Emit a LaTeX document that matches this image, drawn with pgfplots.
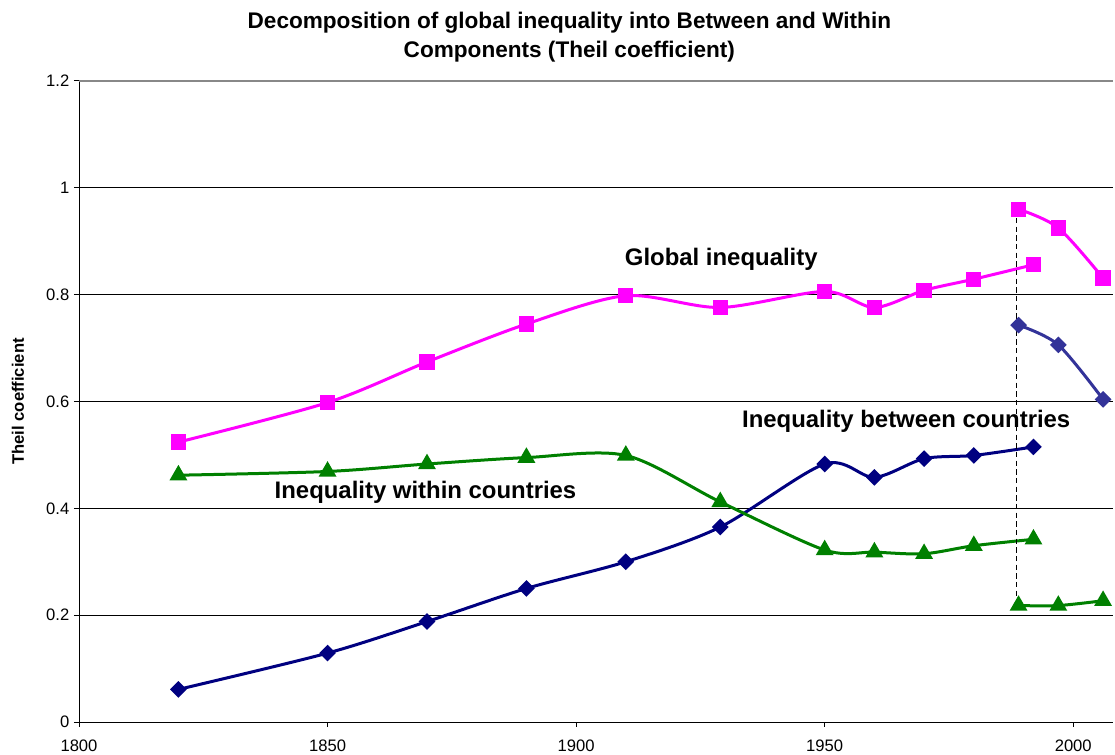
\documentclass[border=0pt]{standalone}
\usepackage{pgfplots}
\pgfplotsset{compat=1.18}
\usepackage{fontspec}
\setmainfont{Liberation Sans}

\definecolor{globalc}{RGB}{255,0,255}
\definecolor{betweenc}{RGB}{0,0,128}
\definecolor{betweenb}{RGB}{51,51,153}
\definecolor{withinc}{RGB}{0,128,0}
\definecolor{topgrid}{RGB}{136,136,136}

\begin{document}
\begin{tikzpicture}
\useasboundingbox (0,0) rectangle (836.25bp,566.25bp);

% title
\node[align=center, font=\fontsize{17}{21.75}\selectfont\bfseries] at (427bp,538.5bp)
  {Decomposition of global inequality into Between and Within\\Components (Theil coefficient)};

\begin{axis}[
  at={(59.25bp,24.75bp)}, anchor=south west,
  scale only axis, width=775.5bp, height=480.75bp,
  xmin=1800, xmax=2008, ymin=0, ymax=1.2,
  xtick={1800,1850,1900,1950,2000},
  ytick={0,0.2,0.4,0.6,0.8,1,1.2},
  axis x line*=bottom, axis y line*=left,
  axis line style={-, black, line width=0.75pt},
  tick align=outside, major tick length=3.75bp,
  tick style={black, line width=0.75pt},
  ymajorgrids, grid style={black, line width=0.6pt},
  ticklabel style={font=\fontsize{12.5}{15}\selectfont},
  xticklabel style={yshift=-6.5bp},
  /pgf/number format/assume math mode=true,
  /pgf/number format/1000 sep={},
  yticklabel style={/pgf/number format/fixed},
  ylabel={Theil coefficient},
  every axis y label/.style={at={(axis description cs:-0.059,0.5)}, rotate=90, anchor=center,
    font=\fontsize{12.5}{15}\selectfont\bfseries},
  clip=false,
  every axis plot/.append style={line width=2.25bp, smooth, tension=0.5},
]

% redraw the top gridline in grey
\draw[white, line width=2bp] (axis cs:1800,1.2) -- (axis cs:2008,1.2);
\draw[topgrid, line width=1.5bp] (axis cs:1800,1.2) -- (axis cs:2008,1.2);

% Bourguignon-Morrisson series
\addplot[globalc, mark=square*, mark size=4.6bp, mark options={solid, fill=globalc}] coordinates {
  (1820,0.524) (1850,0.598) (1870,0.674) (1890,0.745) (1910,0.798) (1929,0.776)
  (1950,0.806) (1960,0.776) (1970,0.808) (1980,0.829) (1992,0.856)};
\addplot[betweenc, mark=square*, mark size=3.3bp, mark options={solid, rotate=45, fill=betweenc}] coordinates {
  (1820,0.061) (1850,0.129) (1870,0.188) (1890,0.250) (1910,0.300) (1929,0.365)
  (1950,0.483) (1960,0.458) (1970,0.493) (1980,0.499) (1992,0.515)};
\addplot[withinc, mark=triangle*, mark size=5.5bp, mark options={solid, fill=withinc}] coordinates {
  (1820,0.462) (1850,0.469) (1870,0.483) (1890,0.495) (1910,0.499) (1929,0.412)
  (1950,0.322) (1960,0.318) (1970,0.315) (1980,0.330) (1992,0.342)};

% recent estimates
\addplot[globalc, mark=square*, mark size=4.6bp, mark options={solid, fill=globalc}] coordinates {
  (1989,0.960) (1997,0.925) (2006,0.831)};
\addplot[betweenb, mark=square*, mark size=3.3bp, mark options={solid, rotate=45, fill=betweenb}] coordinates {
  (1989,0.743) (1997,0.706) (2006,0.604)};
\addplot[withinc, mark=triangle*, mark size=5.5bp, mark options={solid, fill=withinc}] coordinates {
  (1989,0.218) (1997,0.218) (2006,0.227)};

% break between the two sources
\addplot[black, line width=0.9bp, sharp plot, dash pattern=on 4bp off 2.5bp, no marks]
  coordinates {(1988.6,0.960) (1988.6,0.218)};

% series labels
\node[anchor=base, font=\fontsize{18}{21}\selectfont\bfseries] at (axis cs:1929.2,0.854) {Global inequality};
\node[anchor=base, font=\fontsize{18}{21}\selectfont\bfseries] at (axis cs:1966.4,0.552) {Inequality between countries};
\node[anchor=base, font=\fontsize{18}{21}\selectfont\bfseries] at (axis cs:1869.7,0.419) {Inequality within countries};
\end{axis}
\end{tikzpicture}
\end{document}
